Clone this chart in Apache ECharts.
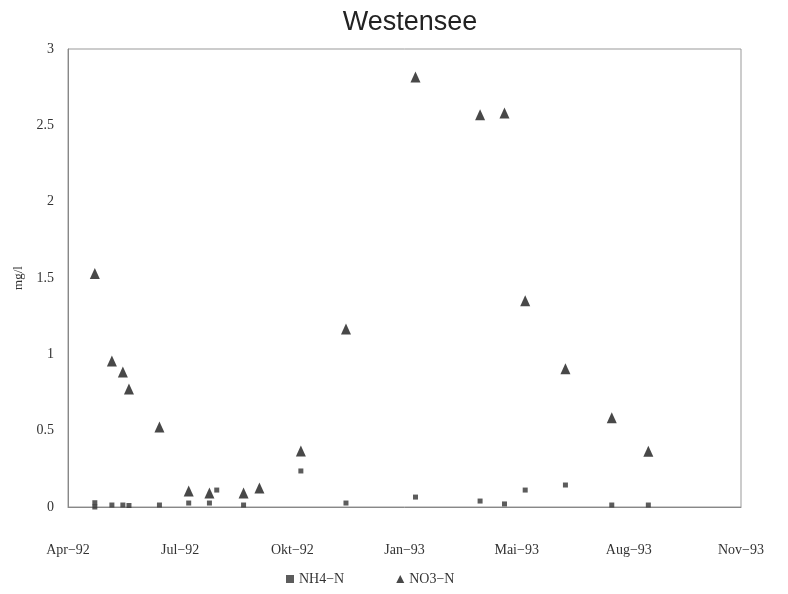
<!DOCTYPE html>
<html>
<head>
<meta charset="utf-8">
<script src="https://cdn.jsdelivr.net/npm/echarts@6/dist/echarts.min.js"></script>
<style>
  html, body { margin: 0; padding: 0; background: #fff; }
  #main { width: 788px; height: 594px; }
</style>
</head>
<body>
<div id="main"></div>
<script>
// axis starts here, ticks every 92 days
const startDate = "1992-04-30";
const tickDays = 92;
const tickLabels = ["Apr\u221292", "Jul\u221292", "Okt\u221292", "Jan\u221293", "Mai\u221293", "Aug\u221293", "Nov\u221293"];

const nh4Dates = ["1992-05-22", "1992-05-22", "1992-06-05", "1992-06-14", "1992-06-19", "1992-07-14",
  "1992-08-07", "1992-08-24", "1992-08-30", "1992-09-21", "1992-11-07", "1992-12-14",
  "1993-02-09", "1993-04-03", "1993-04-23", "1993-05-10", "1993-06-12", "1993-07-20", "1993-08-19"];
const nh4Values = [0.028, 0.0, 0.013, 0.013, 0.01, 0.013,
  0.026, 0.026, 0.111, 0.013, 0.236, 0.026,
  0.065, 0.039, 0.02, 0.111, 0.144, 0.013, 0.013];

const no3Dates = ["1992-05-22", "1992-06-05", "1992-06-14", "1992-06-19", "1992-07-14",
  "1992-08-07", "1992-08-24", "1992-09-21", "1992-10-04", "1992-11-07", "1992-12-14",
  "1993-02-09", "1993-04-03", "1993-04-23", "1993-05-10", "1993-06-12", "1993-07-20", "1993-08-19"];
const no3Values = [1.53, 0.956, 0.884, 0.773, 0.524,
  0.105, 0.092, 0.092, 0.124, 0.367, 1.166,
  2.816, 2.57, 2.58, 1.351, 0.906, 0.585, 0.365];

function dayOf(d) {
  return (Date.parse(d) - Date.parse(startDate)) / 86400000;
}
function pairs(dates, vals) {
  return dates.map((d, i) => [dayOf(d), vals[i]]);
}

const chart = echarts.init(document.getElementById("main"));
const serif = "Liberation Serif";

const option = {
  animation: false,
  title: {
    text: "Westensee",
    left: 405,
    textAlign: "center",
    top: 4,
    textStyle: { fontFamily: "Liberation Sans", fontSize: 27, fontWeight: "normal", color: "#222" }
  },
  grid: {
    left: 68, right: 47, top: 49, bottom: 87,
    show: true, borderColor: "#999", borderWidth: 1
  },
  legend: {
    bottom: 3,
    left: 281,
    itemGap: 52,
    itemWidth: 8,
    itemHeight: 8,
    textStyle: { fontFamily: serif, fontSize: 14, color: "#333" },
    data: ["NH4\u2212N", "NO3\u2212N"]
  },
  xAxis: {
    type: "value",
    min: 0,
    max: tickDays * (tickLabels.length - 1),
    interval: tickDays,
    splitLine: { show: false },
    axisTick: { show: false },
    axisLine: { lineStyle: { color: "#888" } },
    axisLabel: {
      margin: 36,
      fontFamily: serif, fontSize: 14, color: "#333",
      formatter: v => tickLabels[Math.round(v / tickDays)]
    }
  },
  yAxis: {
    type: "value",
    min: 0, max: 3, interval: 0.5,
    name: "mg/l",
    nameLocation: "middle",
    nameGap: 43,
    nameTextStyle: { fontFamily: serif, fontSize: 13, color: "#333" },
    splitLine: { show: false },
    axisTick: { show: false },
    axisLine: { show: true, lineStyle: { color: "#888" } },
    axisLabel: { margin: 14, fontFamily: serif, fontSize: 14, color: "#333" }
  },
  series: [
    {
      name: "NH4\u2212N",
      type: "scatter",
      symbol: "rect",
      symbolSize: 5,
      itemStyle: { color: "#333" },
      data: pairs(nh4Dates, nh4Values)
    },
    {
      name: "NO3\u2212N",
      type: "scatter",
      symbol: "triangle",
      symbolSize: [10, 11],
      itemStyle: { color: "#1a1a1a" },
      data: pairs(no3Dates, no3Values)
    }
  ]
};

chart.setOption(option);
</script>
</body>
</html>
